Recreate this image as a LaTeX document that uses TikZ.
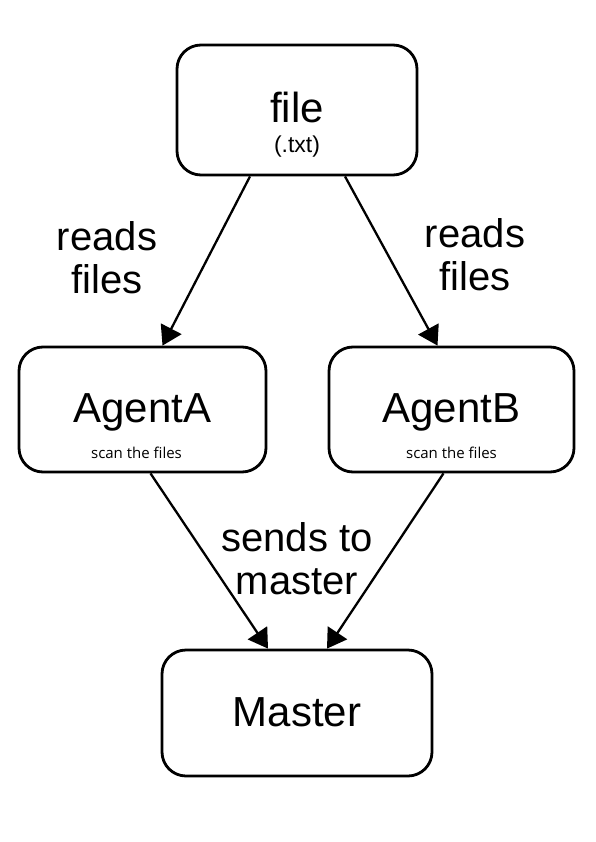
\documentclass[tikz,border=0pt]{standalone}
\usepackage{fontspec}
\setmainfont{Liberation Sans}
\newfontfamily\notefont{Open Sans}
\usetikzlibrary{arrows.meta}

\tikzset{
  box/.style={draw, line width=2.8pt, rounded corners=24pt,
    font=\fontsize{42}{46}\selectfont, text height=30pt, text depth=4pt},
  note/.style={font=\notefont\fontsize{15}{17}\selectfont, anchor=base, inner sep=0pt},
  tag/.style={font=\fontsize{40}{43}\selectfont, align=center, inner sep=0pt},
  link/.style={line width=2.3pt, -{Triangle[length=19pt,width=23pt]}},
}

\begin{document}
\begin{tikzpicture}
  \useasboundingbox (0,0) rectangle (595pt,-842pt);

  % boxes
  \node [box, minimum width=240pt, minimum height=130pt] (file)   at (297pt,-110pt)   {file};
  \node [box, minimum width=247pt, minimum height=125pt] (agentA) at (142.5pt,-409.5pt) {AgentA};
  \node [box, minimum width=245pt, minimum height=125pt] (agentB) at (451.5pt,-409.5pt) {AgentB};
  \node [box, minimum width=270pt, minimum height=126pt, text height=31pt] (master) at (297pt,-713pt) {Master};

  \node [note, font=\fontsize{23}{26}\selectfont] (ext) at ([yshift=-43pt]file.center) {(.txt)};
  \node [note] (scanA) at ([xshift=-6pt,yshift=-48.5pt]agentA.center) {scan the files};
  \node [note] (scanB) at ([yshift=-48.5pt]agentB.center) {scan the files};

  % connectors
  \draw [link] ([xshift=-47pt]file.south) -- ([xshift=20pt]agentA.north);
  \draw [link] ([xshift=48pt]file.south)  -- ([xshift=-14pt]agentB.north);
  \draw [link] ([xshift=8pt]agentA.south) -- ([xshift=-29pt]master.north);
  \draw [link] ([xshift=-8pt]agentB.south) -- ([xshift=30pt]master.north);

  \node [tag] (readsA) at (107pt,-258pt)   {reads\\files};
  \node [tag] (readsB) at (475pt,-255pt)   {reads\\files};
  \node [tag] (sends)  at (297pt,-559pt)   {sends to\\master};
\end{tikzpicture}
\end{document}
